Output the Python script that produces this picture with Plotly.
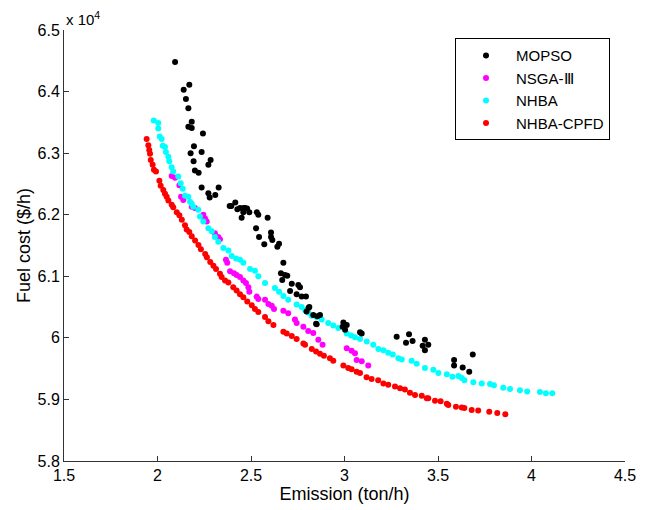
import plotly.graph_objects as go

# ---- data (fuel cost in units of 10^4 $/h) ----
mopso_x = [2.094,2.170,2.140,2.152,2.165,2.183,2.165,2.183,2.243,2.195,2.236,2.177,2.193,2.284,2.272,2.200,2.220,2.236,2.327,2.272,2.279,2.309,2.386,2.416,2.461,2.479,
           2.395,2.427,2.441,2.468,2.459,2.491,2.450,2.531,2.539,2.589,2.527,2.607,2.607,2.543,2.614,2.571,2.650,2.641,2.673,2.660,2.682,2.694,2.667,2.718,2.753,2.762,2.709,2.744,2.771,2.794,
           2.808,2.797,2.812,2.833,2.869,2.848,2.855,2.851,2.994,3.012,3.003,2.990,3.083,3.092,3.279,3.345,3.364,3.329,3.430,3.448,3.418,3.430,3.586,3.586,3.632,3.667,3.686]
mopso_y = [6.448,6.411,6.403,6.388,6.373,6.351,6.343,6.341,6.332,6.311,6.302,6.300,6.287,6.289,6.281,6.272,6.268,6.244,6.244,6.235,6.228,6.232,6.214,6.220,6.211,6.210,
           6.214,6.209,6.211,6.211,6.204,6.204,6.195,6.204,6.200,6.195,6.178,6.171,6.164,6.164,6.159,6.152,6.153,6.148,6.122,6.105,6.102,6.101,6.094,6.088,6.086,6.082,6.076,6.071,6.067,6.067,
           6.049,6.043,6.050,6.037,6.037,6.023,6.035,6.022,6.025,6.021,6.013,6.018,6.009,6.007,6.002,6.006,5.995,5.992,5.997,5.989,5.987,5.980,5.964,5.955,5.952,5.945,5.973]

nsga_x = [2.076,2.094,2.117,2.126,2.138,2.183,2.200,2.245,2.254,2.263,2.307,2.325,2.334,2.366,2.373,2.388,2.409,2.423,2.441,2.459,2.473,2.486,2.491,
          2.530,2.539,2.575,2.593,2.611,2.623,2.673,2.699,2.735,2.744,2.780,2.806,2.833,2.860,2.883,3.012,3.038,3.056,3.065,3.092,3.127]
nsga_y = [6.263,6.260,6.248,6.229,6.224,6.213,6.211,6.200,6.194,6.189,6.170,6.164,6.160,6.127,6.122,6.108,6.105,6.102,6.099,6.093,6.089,6.082,6.075,
          6.067,6.063,6.062,6.055,6.052,6.047,6.044,6.040,6.030,6.024,6.018,6.011,6.008,5.997,5.989,5.983,5.979,5.975,5.964,5.962,5.955]

nhba_x = [1.980,2.004,2.004,2.012,2.022,2.028,2.040,2.045,2.058,2.063,2.076,2.084,2.111,2.124,2.135,2.147,2.165,2.174,2.183,
          2.191,2.218,2.227,2.245,2.272,2.290,2.307,2.325,2.352,2.379,
          2.397,2.420,2.441,2.459,2.495,2.521,2.539,2.575,2.628,2.650,2.673,2.699,2.744,
          2.771,2.790,2.806,2.825,2.851,2.878,2.913,2.940,2.967,3.012,3.035,3.056,3.083,3.119,3.154,3.181,3.208,3.234,3.258,3.288,3.306,
          3.359,3.386,3.430,3.475,3.502,3.547,3.577,3.609,3.627,3.641,3.689,3.734,3.778,3.799,3.849,3.885,3.938,3.977,4.045,4.077,4.111]
nhba_y = [6.353,6.349,6.340,6.327,6.323,6.312,6.310,6.302,6.294,6.287,6.277,6.270,6.262,6.251,6.242,6.231,6.229,6.221,6.218,
          6.213,6.208,6.197,6.189,6.178,6.173,6.164,6.156,6.146,6.142,
          6.133,6.129,6.127,6.122,6.112,6.109,6.100,6.089,6.081,6.075,6.068,6.062,6.054,
          6.050,6.045,6.041,6.036,6.034,6.030,6.024,6.020,6.016,6.007,6.004,6.001,5.998,5.994,5.989,5.982,5.980,5.976,5.973,5.967,5.965,
          5.963,5.958,5.951,5.948,5.943,5.941,5.937,5.938,5.935,5.931,5.928,5.926,5.925,5.923,5.919,5.917,5.915,5.913,5.912,5.910,5.910]

cpfd_x = [1.942,1.951,1.956,1.960,1.964,1.974,1.981,1.992,2.010,2.017,2.031,2.040,2.049,2.058,2.076,2.084,
          2.103,2.117,2.130,2.147,2.156,2.170,2.183,2.201,2.219,2.232,2.255,2.264,2.282,2.299,2.313,2.334,2.343,2.361,2.379,
          2.405,2.423,2.441,2.459,2.480,2.504,2.521,2.539,2.575,2.593,2.620,2.673,2.691,2.718,2.744,
          2.780,2.789,2.825,2.848,2.869,2.890,2.922,2.940,2.994,3.020,3.038,3.065,3.083,3.118,3.145,3.180,3.208,3.234,3.270,3.297,3.323,3.350,3.377,
          3.413,3.440,3.448,3.484,3.514,3.547,3.555,3.596,3.627,3.641,3.680,3.715,3.774,3.817,3.860]
cpfd_y = [6.323,6.313,6.305,6.299,6.289,6.281,6.273,6.270,6.255,6.247,6.240,6.234,6.229,6.223,6.216,6.212,
          6.204,6.199,6.192,6.183,6.176,6.172,6.165,6.158,6.151,6.144,6.136,6.131,6.123,6.117,6.112,6.104,6.099,6.093,6.090,
          6.082,6.077,6.071,6.066,6.059,6.053,6.047,6.042,6.034,6.027,6.021,6.010,6.007,6.003,5.998,
          5.991,5.989,5.982,5.978,5.974,5.971,5.967,5.963,5.955,5.951,5.949,5.945,5.943,5.936,5.933,5.931,5.926,5.924,5.921,5.918,5.916,5.911,5.907,
          5.906,5.902,5.902,5.898,5.897,5.893,5.891,5.888,5.887,5.886,5.883,5.882,5.880,5.878,5.876]

x_ticks = [1.5, 2, 2.5, 3, 3.5, 4, 4.5]
x_ticktext = ["1.5", "2", "2.5", "3", "3.5", "4", "4.5"]
y_ticks = [5.8, 5.9, 6.0, 6.1, 6.2, 6.3, 6.4, 6.5]
y_ticktext = ["5.8", "5.9", "6", "6.1", "6.2", "6.3", "6.4", "6.5"]

FONT = "Liberation Sans, Arial, Helvetica, sans-serif"

series = [
    # (name, x, y, color, legendrank)
    ("NSGA-Ⅲ", nsga_x, nsga_y, "#ff00ff", 2),
    ("NHBA", nhba_x, nhba_y, "#00ffff", 3),
    ("NHBA-CPFD", cpfd_x, cpfd_y, "#ff0000", 4),
    ("MOPSO", mopso_x, mopso_y, "#000000", 1),
]

fig = go.Figure()
for name, xs, ys, col, rank in series:
    assert len(xs) == len(ys)
    fig.add_trace(go.Scatter(
        x=xs, y=ys, mode="markers", name=name,
        marker=dict(color=col, size=6, line=dict(width=0)),
        legendrank=rank,
    ))

axis_common = dict(
    showgrid=False, zeroline=False, showline=True, linecolor="#333333", linewidth=1,
    ticks="inside", ticklen=5, tickcolor="#333333", mirror=False,
    tickfont=dict(family=FONT, size=16, color="#000000"),
)

fig.update_layout(
    width=649, height=510,
    margin=dict(l=64, r=24, t=30, b=49),
    paper_bgcolor="white", plot_bgcolor="white",
    font=dict(family=FONT, size=16, color="#000000"),
    xaxis=dict(range=[1.5, 4.5], tickvals=x_ticks, ticktext=x_ticktext,
               title=dict(text="Emission (ton/h)", font=dict(family=FONT, size=18), standoff=2),
               **axis_common),
    yaxis=dict(range=[5.8, 6.5], tickvals=y_ticks, ticktext=y_ticktext,
               title=dict(text="Fuel cost ($/h)", font=dict(family=FONT, size=18), standoff=2),
               **axis_common),
    legend=dict(
        x=0.697, y=0.981, xanchor="left", yanchor="top",
        bordercolor="#000000", borderwidth=1, bgcolor="white",
        font=dict(family=FONT, size=15),
        itemwidth=50, entrywidth=102,
    ),
    showlegend=True,
)

fig.add_annotation(
    text="x 10<sup>4</sup>", xref="paper", yref="paper", x=0, y=1,
    xanchor="left", yanchor="bottom", showarrow=False,
    font=dict(family=FONT, size=15), xshift=0, yshift=0,
)

fig.write_html("out.html")
